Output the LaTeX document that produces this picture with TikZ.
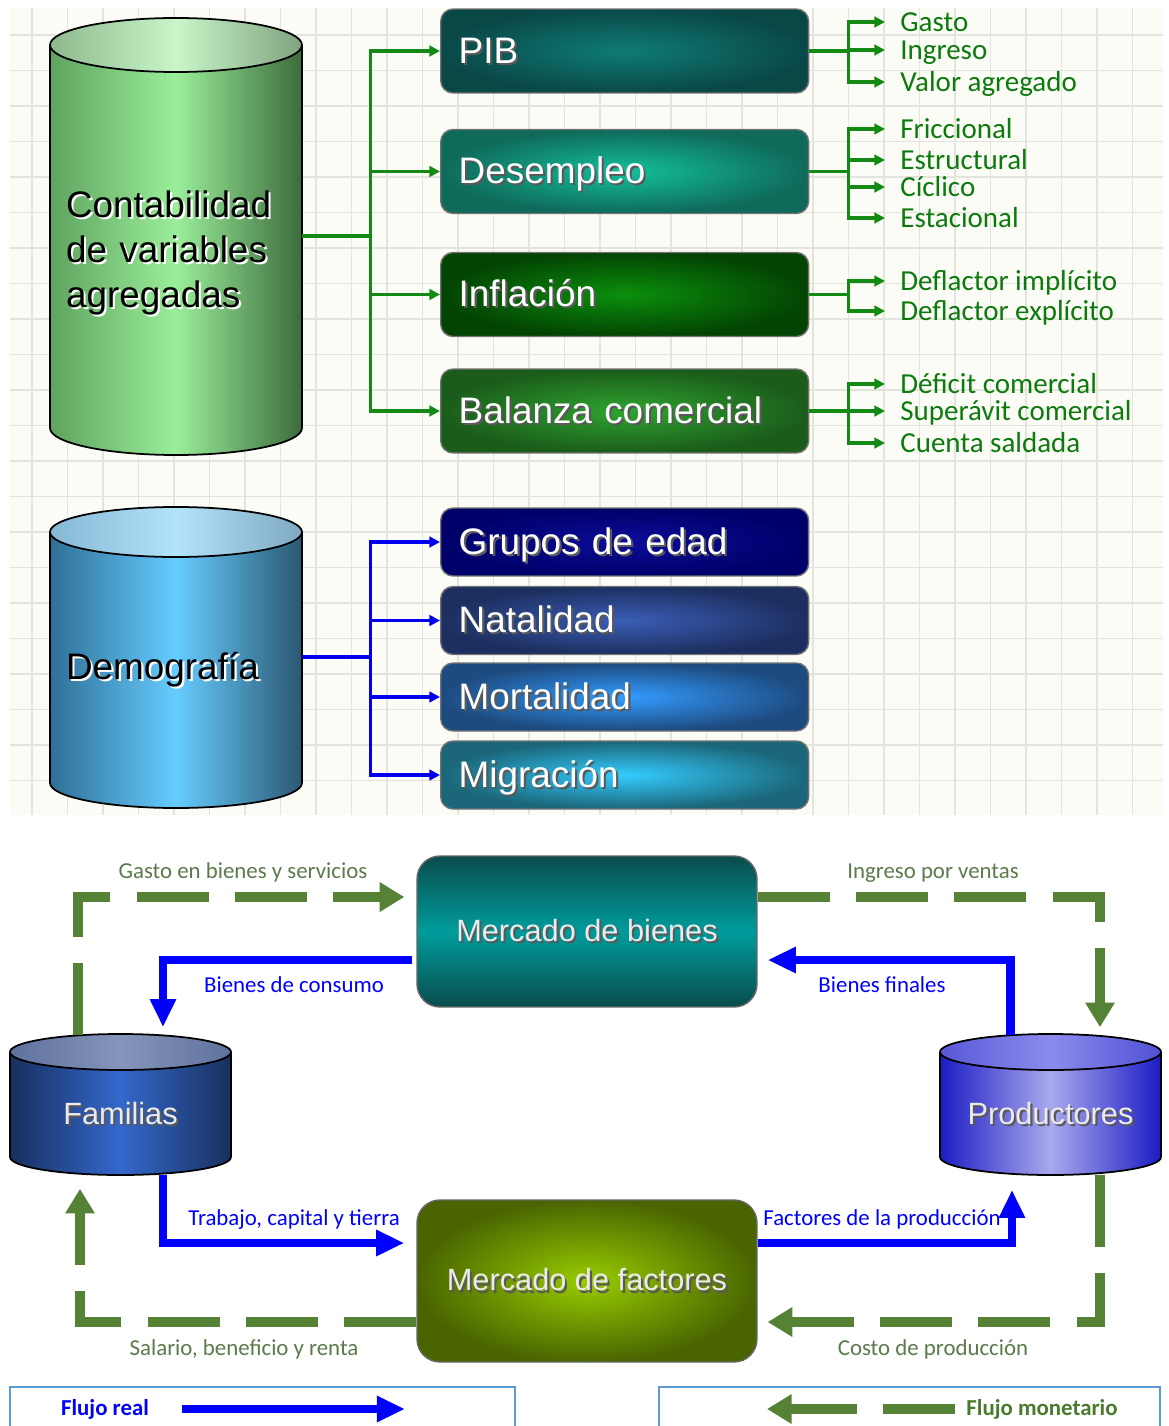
\documentclass[tikz,border=0pt]{standalone}
\usepackage{fontspec}
\setmainfont{Liberation Sans}
\newfontfamily\cali{Carlito}
\usetikzlibrary{arrows.meta,calc}

\definecolor{paper}{HTML}{FCFCF7}
\definecolor{gridgrey}{HTML}{E4E4DE}
\definecolor{branchgreen}{HTML}{138A13}
\definecolor{leafgreen}{HTML}{0C7A0C}
\definecolor{branchblue}{HTML}{0000EE}
\definecolor{flowblue}{HTML}{0000FF}
\definecolor{moneygreen}{HTML}{568236}
\definecolor{moneytext}{HTML}{5B7B4B}
\definecolor{moneydark}{HTML}{4A7A2C}
\definecolor{legendframe}{HTML}{5B9BD5}

\newcommand{\bigfont}{\fontsize{21}{25.5}\selectfont}
\newcommand{\midfont}{\fontsize{17.5}{21}\selectfont}
\newcommand{\leaffont}{\cali\fontsize{16.5}{19}\selectfont}
\newcommand{\flowfont}{\cali\fontsize{13}{15}\selectfont}

% text with a small drop shadow
\newcommand{\shad}[2][black!65]{\makebox[0pt][l]{\kern1.2pt\raisebox{-1.2pt}{\textcolor{#1}{#2}}}#2}

% drum: left, right, y of cap centre, y of base centre, y radius, body style, cap style
\newcommand{\drum}[7]{%
  \pgfmathsetmacro\drumrx{(#2-#1)/2}%
  \pgfmathsetmacro\drumrxcm{(#2-#1)/100}%
  \pgfmathsetmacro\drumrycm{#5/50}%
  \path[#6,draw=black,line width=1pt] (#1,#3) -- (#1,#4)
    arc[start angle=180,end angle=360,x radius=\drumrxcm cm,y radius=\drumrycm cm] -- (#2,#3);
  \path[#7,draw=black,line width=1pt] ({(#1+#2)/2},#3) ellipse[x radius=\drumrx,y radius=#5];
}

\tikzset{
  gridline/.style={draw=gridgrey, line width=0.6pt},
  varbox/.style={rounded corners=7pt, draw=black!55, line width=0.8pt, anchor=west,
    minimum width=7.36cm, text width=6.64cm, inner xsep=0.36cm, align=left,
    text height=18pt, text depth=4pt, text=white, font=\bigfont},
  drumtext/.style={text width=4.4cm, inner xsep=0.32cm, align=left, font=\bigfont},
  leaf/.style={anchor=west, inner xsep=0.3cm, inner ysep=0pt, text height=13pt, text depth=2pt,
    text=leafgreen, font=\leaffont},
  trunk/.style={draw=branchgreen, line width=1.8pt},
  branch/.style={trunk, -{Triangle[length=6pt,width=6pt]}},
  bluetrunk/.style={draw=branchblue, line width=1.8pt},
  bluebranch/.style={bluetrunk, -{Triangle[length=6pt,width=6pt]}},
  market/.style={rounded corners=13pt, draw=black!60, line width=0.8pt, minimum width=6.8cm,
    font=\midfont, text=white!92!black},
  drumlabel/.style={minimum width=4.42cm, minimum height=2.46cm, text height=16pt, text depth=3pt,
    font=\midfont, text=white!92!black},
  realflow/.style={draw=flowblue, line width=4.6pt, -{Triangle[length=16pt,width=14pt]}},
  moneyflow/.style={draw=moneygreen, line width=5.4pt, dash pattern=on 41pt off 15pt,
    -{Triangle[length=14pt,width=16pt]}},
  reallabel/.style={font=\flowfont, text=flowblue},
  moneylabel/.style={font=\flowfont, text=moneytext},
  legendtext/.style={font=\cali\bfseries\fontsize{13}{15}\selectfont},
  legendbox/.style={draw=legendframe, line width=1.5pt},
  % fills
  greenbody/.style={left color={rgb,255:red,95;green,163;blue,95}, right color={rgb,255:red,61;green,107;blue,61},
    middle color={rgb,255:red,154;green,238;blue,154}},
  greencap/.style={left color={rgb,255:red,141;green,185;blue,141}, right color={rgb,255:red,127;green,163;blue,127},
    middle color={rgb,255:red,201;green,246;blue,201}},
  bluebody/.style={left color={rgb,255:red,47;green,111;blue,150}, right color={rgb,255:red,43;green,88;blue,115},
    middle color={rgb,255:red,102;green,204;blue,255}},
  bluecap/.style={left color={rgb,255:red,134;green,184;blue,212}, right color={rgb,255:red,126;green,169;blue,194},
    middle color={rgb,255:red,179;green,227;blue,250}},
  famibody/.style={left color={rgb,255:red,24;green,47;blue,94}, right color={rgb,255:red,24;green,47;blue,94},
    middle color={rgb,255:red,52;green,104;blue,204}},
  famicap/.style={left color={rgb,255:red,95;green,114;blue,156}, right color={rgb,255:red,95;green,114;blue,156},
    middle color={rgb,255:red,133;green,149;blue,187}},
  prodbody/.style={left color={rgb,255:red,28;green,28;blue,196}, right color={rgb,255:red,28;green,28;blue,196},
    middle color={rgb,255:red,169;green,169;blue,238}},
  prodcap/.style={left color={rgb,255:red,88;green,88;blue,216}, right color={rgb,255:red,80;green,80;blue,212},
    middle color={rgb,255:red,140;green,140;blue,236}},
  pibfill/.style={inner color={rgb,255:red,14;green,124;blue,116}, outer color={rgb,255:red,10;green,72;blue,72}},
  desfill/.style={inner color={rgb,255:red,19;green,192;blue,154}, outer color={rgb,255:red,15;green,106;blue,90}},
  inffill/.style={inner color={rgb,255:red,11;green,143;blue,11}, outer color={rgb,255:red,3;green,68;blue,3}},
  balfill/.style={inner color={rgb,255:red,46;green,165;blue,46}, outer color={rgb,255:red,27;green,92;blue,27}},
  grpfill/.style={inner color={rgb,255:red,12;green,12;blue,154}, outer color={rgb,255:red,0;green,0;blue,106}},
  natfill/.style={inner color={rgb,255:red,58;green,93;blue,181}, outer color={rgb,255:red,29;green,47;blue,96}},
  morfill/.style={inner color={rgb,255:red,52;green,156;blue,255}, outer color={rgb,255:red,29;green,75;blue,128}},
  migfill/.style={inner color={rgb,255:red,52;green,204;blue,255}, outer color={rgb,255:red,27;green,102;blue,121}},
  bienesfill/.style={top color={rgb,255:red,10;green,76;blue,76}, bottom color={rgb,255:red,10;green,76;blue,76},
    middle color={rgb,255:red,0;green,156;blue,156}},
  factfill/.style={inner color={rgb,255:red,153;green,204;blue,0}, outer color={rgb,255:red,74;green,101;blue,0}},
}

\begin{document}
\begin{tikzpicture}[x=0.02cm,y=-0.02cm]
  \useasboundingbox (0,0) rectangle (1169,1426);
  \fill[white] (0,0) rectangle (1169,1426);

  % squared paper behind the upper half
  \fill[paper] (10,8) rectangle (1163,815);
  \foreach \gx in {0,...,31}
    \draw[gridline] ({32+35.5*\gx},8) -- ({32+35.5*\gx},815);
  \foreach \gy in {0,...,21}
    \draw[gridline] (10,{35+35.5*\gy}) -- (1163,{35+35.5*\gy});

  % the two big drums
  \drum{50}{302}{45}{428}{27}{greenbody}{greencap}
  \drum{50}{302}{532}{783}{25}{bluebody}{bluecap}
  \node[drumtext] (conta) at (176,254)
    {\shad[white]{Contabilidad}\\\shad[white]{de variables}\\\shad[white]{agregadas}};
  \node[drumtext] (demo) at (176,671) {\shad[white]{Demografía}};

  % aggregate variables
  \node[varbox,minimum height=1.68cm,pibfill] (pib) at (440,51) {\shad{PIB}};
  \node[varbox,minimum height=1.68cm,desfill] (desempleo) at (440,171.5) {\shad{Desempleo}};
  \node[varbox,minimum height=1.68cm,inffill] (inflacion) at (440,294.5) {\shad{Inflación}};
  \node[varbox,minimum height=1.68cm,balfill] (balanza) at (440,411) {\shad{Balanza comercial}};

  \draw[trunk] ($(conta.east)+(0,-18)$) -- ++(68,0) coordinate (greenbus);
  \foreach \b in {pib,desempleo,inflacion,balanza}
    \draw[branch] (greenbus) |- (\b.west);

  \draw[trunk] (pib.east) -- ++(39,0) coordinate (pibhub);
  \draw[trunk] (desempleo.east) -- ++(39,0) coordinate (deshub);
  \draw[trunk] (inflacion.east) -- ++(39,0) coordinate (infhub);
  \draw[trunk] (balanza.east) -- ++(39,0) coordinate (balhub);
  \foreach \name/\yy/\txt/\hub in {gasto/22/Gasto/pibhub, ingreso/50/Ingreso/pibhub,
      valor/82/Valor agregado/pibhub, fric/129/Friccional/deshub, estr/160/Estructural/deshub,
      cicl/187/Cíclico/deshub, esta/218/Estacional/deshub, impl/281/Deflactor implícito/infhub,
      expl/311/Deflactor explícito/infhub, defi/384/Déficit comercial/balhub,
      supe/411/Superávit comercial/balhub, cuen/443/Cuenta saldada/balhub}
  {
    \node[leaf] (\name) at (885,\yy) {\txt};
    \draw[branch] (\hub) |- (\name.west);
  }

  % demography
  \node[varbox,minimum height=1.36cm,grpfill] (grupos) at (440,542) {\shad{Grupos de edad}};
  \node[varbox,minimum height=1.36cm,natfill] (natalidad) at (440,620.5) {\shad{Natalidad}};
  \node[varbox,minimum height=1.36cm,morfill] (mortalidad) at (440,697) {\shad{Mortalidad}};
  \node[varbox,minimum height=1.36cm,migfill] (migracion) at (440,775) {\shad{Migración}};

  \draw[bluetrunk] ($(demo.east)+(0,-14)$) -- ++(68,0) coordinate (bluebus);
  \foreach \b in {grupos,natalidad,mortalidad,migracion}
    \draw[bluebranch] (bluebus) |- (\b.west);

  % circular flow
  \drum{10}{231}{1052}{1157}{18}{famibody}{famicap}
  \drum{940}{1161}{1052}{1157}{18}{prodbody}{prodcap}
  \node[market,minimum height=3.02cm,bienesfill] (bienes) at (587,931.5) {\shad{Mercado de bienes}};
  \node[market,minimum height=3.24cm,factfill] (factores) at (587,1281) {\shad{Mercado de factores}};
  \node[drumlabel] (familias) at (120.5,1113) {\shad{Familias}};
  \node[drumlabel] (productores) at (1050.5,1113) {\shad{Productores}};

  % real flow
  \draw[realflow] ($(bienes.west)+(-4,28.5)$) -| ($(familias.north)+(42.5,-24)$);
  \draw[realflow] ($(productores.north)+(-40,-16)$) |- ($(bienes.east)+(10,28.5)$);
  \draw[realflow] ($(familias.south)+(42.5,0)$) |- ($(factores.west)+(-12,-38)$);
  \draw[realflow] ($(factores.east)+(0,-38)$) -| ($(productores.south)+(-38.5,15)$);

  % money flow
  \draw[moneyflow] ($(familias.north)+(-42.5,-16)$) |- ($(bienes.west)+(-12,-34.5)$);
  \draw[moneyflow] ($(bienes.east)+(0,-34.5)$) -| ($(productores.north)+(49.5,-24)$);
  \draw[moneyflow] ($(productores.south)+(49.5,0)$) |- ($(factores.east)+(10,41)$);
  \draw[moneyflow] ($(factores.west)+(0,41)$) -| ($(familias.south)+(-40.5,14)$);

  \node[moneylabel] (gastolab) at (243,872) {Gasto en bienes y servicios};
  \node[moneylabel] (ingresolab) at (933,873) {Ingreso por ventas};
  \node[reallabel] (consumolab) at (294,985) {Bienes de consumo};
  \node[reallabel] (finaleslab) at (882,985) {Bienes finales};
  \node[reallabel] (trabajolab) at (294,1220) {Trabajo, capital y tierra};
  \node[reallabel] (factoreslab) at (882,1219) {Factores de la producción};
  \node[moneylabel] (salariolab) at (244,1349) {Salario, beneficio y renta};
  \node[moneylabel] (costolab) at (933,1349) {Costo de producción};

  % legend
  \draw[legendbox] (10,1430) |- (515,1387) -- (515,1430);
  \draw[legendbox] (659,1430) |- (1160,1387) -- (1160,1430);
  \node[legendtext,text=flowblue] (real) at (105,1409) {Flujo real};
  \coordinate (realtip) at (405,1409);
  \draw[realflow] ($(real.east)+(27,0)$) -- (realtip);
  \node[legendtext,text=moneydark] (monetario) at (1042,1409) {Flujo monetario};
  \coordinate (moneytip) at (767,1409);
  \draw[moneyflow] ($(monetario.west)+(-5,0)$) -- (moneytip);
\end{tikzpicture}
\end{document}
